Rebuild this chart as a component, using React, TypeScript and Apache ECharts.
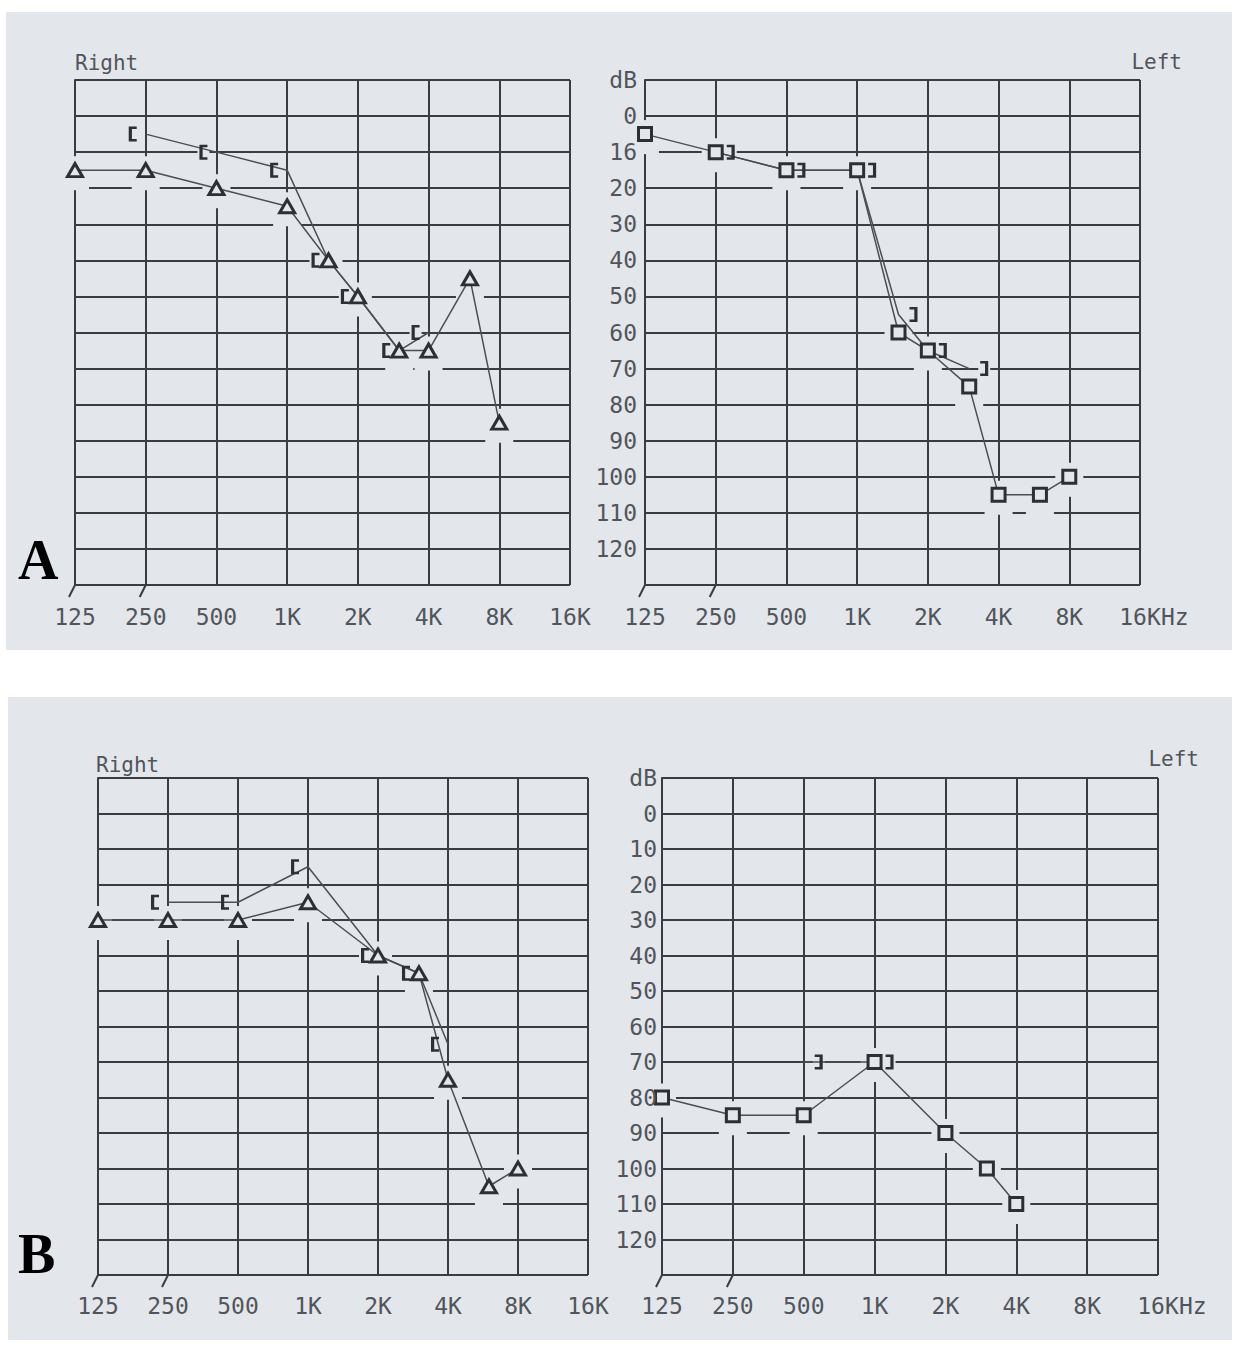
import React, { useEffect, useRef } from "react";
import * as echarts from "echarts";

// ---- tick labels ----
const X_LABELS = ["125", "250", "500", "1K", "2K", "4K", "8K", "16K"];
const DB_LABELS_A = ["dB", "0", "16", "20", "30", "40", "50", "60", "70", "80", "90", "100", "110", "120", ""];
const DB_LABELS_B = ["dB", "0", "10", "20", "30", "40", "50", "60", "70", "80", "90", "100", "110", "120", ""];

// ---- data: [frequency Hz, hearing level dB] ----
// A, right ear (triangles = air, "[" = bone)
const A_RIGHT_AIR = [[125, 15], [250, 15], [500, 20], [1000, 25], [1500, 40], [2000, 50], [3000, 65], [4000, 65], [6000, 45], [8000, 85]];
const A_RIGHT_BONE = [[250, 5], [500, 10], [1000, 15], [1500, 40], [2000, 50], [3000, 65], [4000, 60]];
// A, left ear (squares = air, "]" = bone)
const A_LEFT_AIR = [[125, 5], [250, 10], [500, 15], [1000, 15], [1500, 60], [2000, 65], [3000, 75], [4000, 105], [6000, 105], [8000, 100]];
const A_LEFT_BONE = [[250, 10], [500, 15], [1000, 15], [1500, 55], [2000, 65], [3000, 70]];
// B, right ear
const B_RIGHT_AIR = [[125, 30], [250, 30], [500, 30], [1000, 25], [2000, 40], [3000, 45], [4000, 75], [6000, 105], [8000, 100]];
const B_RIGHT_BONE = [[250, 25], [500, 25], [1000, 15], [2000, 40], [3000, 45], [4000, 65]];
// B, left ear
const B_LEFT_AIR = [[125, 80], [250, 85], [500, 85], [1000, 70], [2000, 90], [3000, 100], [4000, 110]];
const B_LEFT_BONE = [[500, 70], [1000, 70]];

const PANEL_BG = "#e3e7eb";
const INK = "#383c43";
const SYM = "#2c3036";
const TEXT = "#51555b";
const MONO = "'DejaVu Sans Mono', 'Liberation Mono', monospace";

const GRIDS = [
  { left: 75, top: 80, width: 495, height: 505 },
  { left: 645, top: 80, width: 495, height: 505 },
  { left: 98, top: 778, width: 490, height: 497 },
  { left: 662, top: 778, width: 496, height: 497 },
];

const toX = (f: number) => Math.log2(f / 125);
const conv = (pts: number[][]) => pts.map(([f, db]) => [toX(f), db]);

const BRACKET_L = "path://M0,0H10V3H4V15H10V18H0Z";
const BRACKET_R = "path://M0,0H10V18H0V15H6V3H0Z";

function earSeries(gi: number, air: number[][], bone: number[][], ear: "right" | "left") {
  const off = ear === "right" ? -13 : 15;
  const airData = conv(air);
  const boneData = conv(bone);
  const base = { xAxisIndex: gi, yAxisIndex: gi, silent: true, animation: false };
  const lineStyle = { color: "#4a4e55", width: 1.5 };
  return [
    { ...base, type: "scatter", z: 2, data: airData, symbol: "rect", symbolSize: [28, 34], symbolOffset: [0, 3], itemStyle: { color: PANEL_BG, opacity: 1 } },
    { ...base, type: "scatter", z: 2, data: boneData, symbol: "rect", symbolSize: [12, 30], symbolOffset: [off, 0], itemStyle: { color: PANEL_BG, opacity: 1 } },
    { ...base, type: "line", z: 3, data: airData, showSymbol: false, symbol: "none", lineStyle },
    { ...base, type: "line", z: 3, data: boneData, showSymbol: false, symbol: "none", lineStyle },
    {
      ...base, type: "scatter", z: 4, data: airData,
      symbol: ear === "right" ? "triangle" : "rect",
      symbolSize: ear === "right" ? [15, 13] : [13, 13],
      itemStyle: { color: PANEL_BG, borderColor: SYM, borderWidth: 3, opacity: 1 },
    },
    {
      ...base, type: "scatter", z: 5, data: boneData,
      symbol: ear === "right" ? BRACKET_L : BRACKET_R,
      symbolSize: [8, 15], symbolOffset: [off, 0],
      itemStyle: { color: SYM, borderWidth: 0, opacity: 1 },
    },
  ];
}

export default function App() {
  const ref = useRef<HTMLDivElement>(null);
  useEffect(() => {
    if (!ref.current) return;
    const chart = echarts.init(ref.current, undefined, { renderer: "svg" });
    const xAxis = GRIDS.map((_, i) => ({
      type: "value", gridIndex: i, min: 0, max: 7, interval: 1, z: 0,
      axisLine: { show: true, lineStyle: { color: INK, width: 2 } },
      axisTick: { show: false },
      splitLine: { show: true, lineStyle: { color: INK, width: 2 } },
      axisLabel: {
        formatter: (v: number) => X_LABELS[Math.round(v)] ?? "",
        fontFamily: MONO, fontSize: 23, color: TEXT, margin: i < 2 ? 20 : 19,
      },
    }));
    const yAxis: any[] = GRIDS.map((_, i) => ({
      type: "value", gridIndex: i, position: "left", inverse: true, min: -10, max: 130, interval: 10, z: 0,
      axisLine: { show: true, lineStyle: { color: INK, width: 2 } },
      axisTick: { show: false },
      splitLine: { show: true, lineStyle: { color: INK, width: 2 } },
      axisLabel: { show: false },
    }));
    // label-only axes for the left-ear panels, drawn above the marks
    [1, 3].forEach((i) => {
      yAxis.push({
        type: "value", gridIndex: i, position: "left", offset: 0, inverse: true, min: -10, max: 130, interval: 10, z: 10,
        axisLine: { show: false, onZero: false }, axisTick: { show: false }, splitLine: { show: false },
        axisLabel: {
          show: true,
          formatter: (v: number) => (i < 2 ? DB_LABELS_A : DB_LABELS_B)[Math.round((v + 10) / 10)] ?? "",
          fontFamily: MONO, fontSize: 23, color: TEXT, margin: i < 2 ? 8 : 5,
        },
      });
    });
    const series = [
      ...earSeries(0, A_RIGHT_AIR, A_RIGHT_BONE, "right"),
      ...earSeries(1, A_LEFT_AIR, A_LEFT_BONE, "left"),
      ...earSeries(2, B_RIGHT_AIR, B_RIGHT_BONE, "right"),
      ...earSeries(3, B_LEFT_AIR, B_LEFT_BONE, "left"),
    ];
    const titleStyle = { fontFamily: MONO, fontSize: 21, fontWeight: "normal", color: TEXT };
    chart.setOption({
      animation: false,
      backgroundColor: "#ffffff",
      grid: GRIDS.map((g) => ({ ...g, containLabel: false, show: false })),
      xAxis, yAxis, series,
      title: [
        { text: "Right", left: 75, top: 52, textStyle: titleStyle, padding: 0 },
        { text: "Left", right: 1234 - 1182, top: 51, textStyle: titleStyle, padding: 0 },
        { text: "Right", left: 96, top: 754, textStyle: titleStyle, padding: 0 },
        { text: "Left", right: 1234 - 1199, top: 748, textStyle: titleStyle, padding: 0 },
      ],
    });
    // decorations computed from the axes
    const extra: any[] = [
      { type: "rect", z: -10, shape: { x: 6, y: 12, width: 1226, height: 638 }, style: { fill: PANEL_BG } },
      { type: "rect", z: -10, shape: { x: 8, y: 697, width: 1224, height: 643 }, style: { fill: PANEL_BG } },
      { type: "text", z: 100, x: 18, y: 532, style: { text: "A", font: "bold 56px 'Liberation Serif', 'DejaVu Serif', serif", fill: "#000" } },
      { type: "text", z: 100, x: 18, y: 1226, style: { text: "B", font: "bold 56px 'Liberation Serif', 'DejaVu Serif', serif", fill: "#000" } },
    ];
    GRIDS.forEach((_, i) => {
      [0, 1].forEach((xv) => {
        const p = chart.convertToPixel({ xAxisIndex: i, yAxisIndex: i }, [xv, 130]) as number[];
        extra.push({ type: "line", z: 50, shape: { x1: p[0], y1: p[1], x2: p[0] - 6, y2: p[1] + 12 }, style: { stroke: INK, lineWidth: 2 } });
      });
      if (i % 2 === 1) {
        const p = chart.convertToPixel({ xAxisIndex: i, yAxisIndex: i }, [7, 130]) as number[];
        const m = i < 2 ? 20 : 19;
        extra.push({
          type: "text", z: 50, x: p[0] + 21, y: p[1] + m,
          style: { text: "Hz", font: `23px ${MONO}`, fill: TEXT, textAlign: "left", textVerticalAlign: "top" },
        });
      }
    });
    chart.setOption({ graphic: extra });
    return () => chart.dispose();
  }, []);
  return <div ref={ref} style={{ position: "absolute", left: 0, top: 0, width: 1234, height: 1348 }} />;
}
